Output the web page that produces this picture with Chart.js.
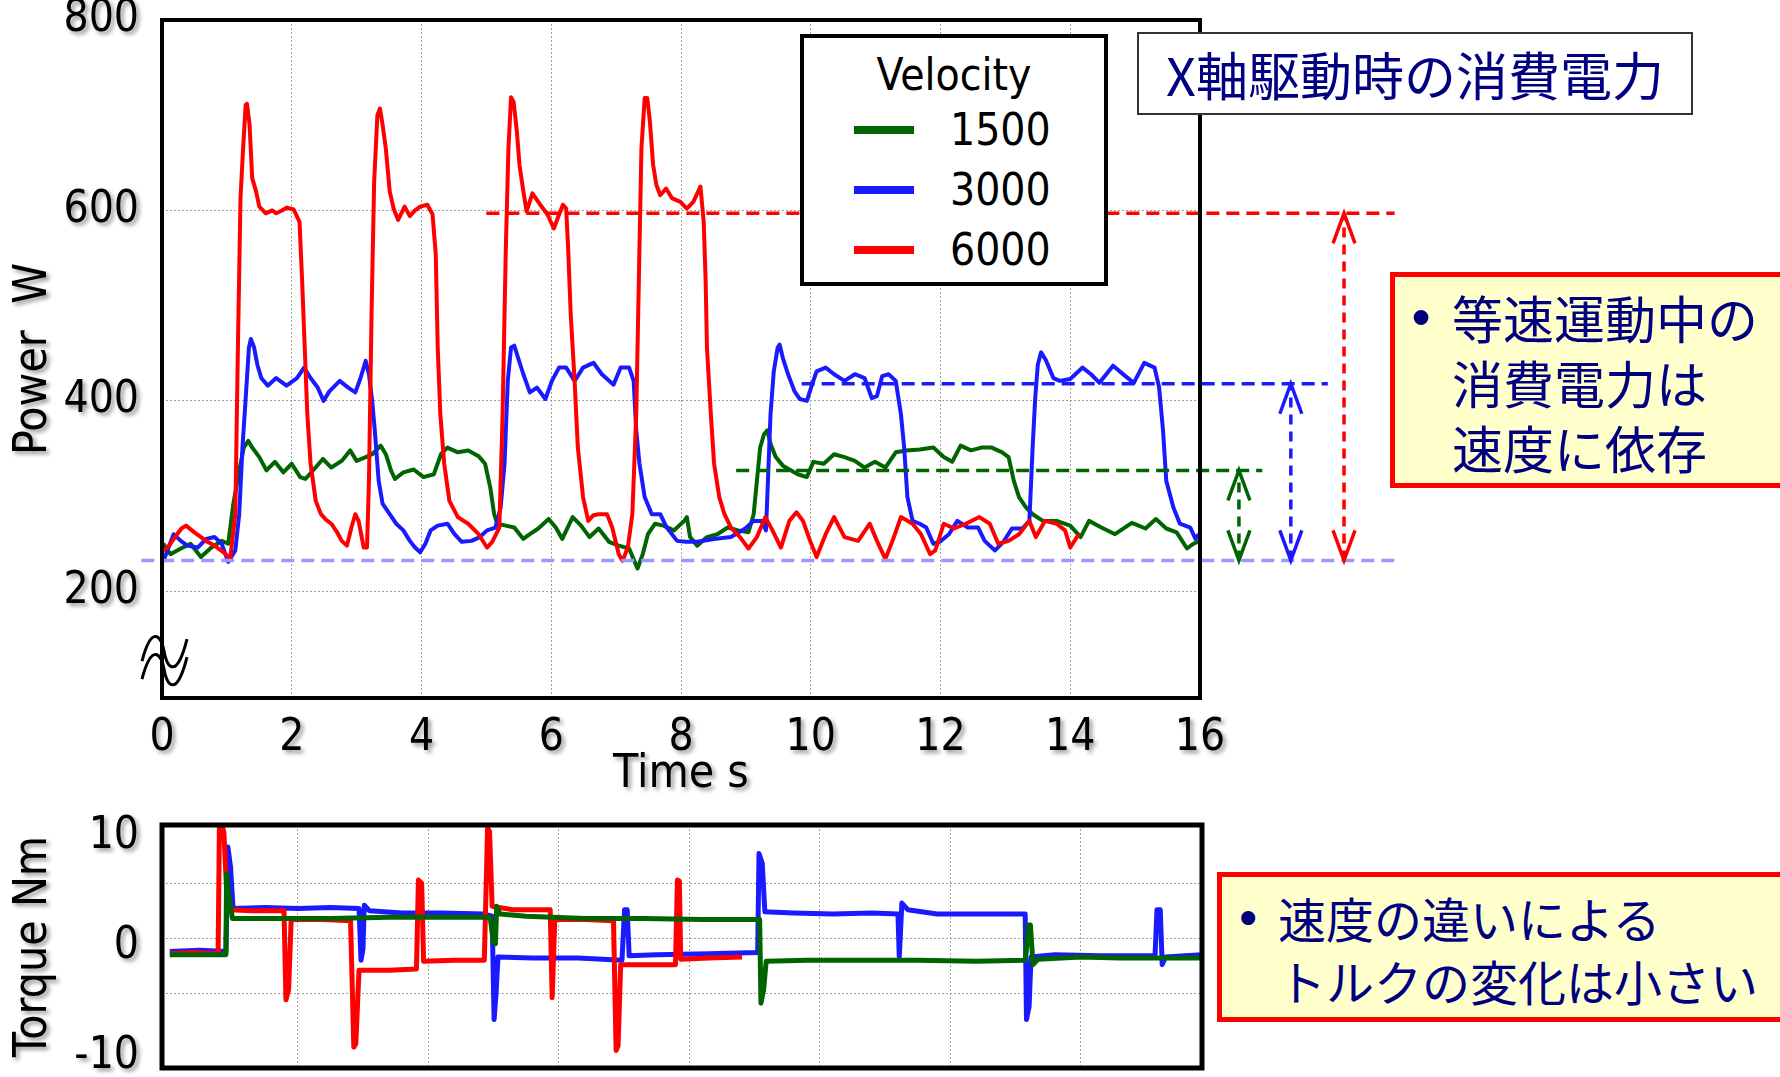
<!DOCTYPE html>
<html>
<head>
<meta charset="utf-8">
<script src="https://cdn.jsdelivr.net/npm/chart.js@4.4.1/dist/chart.umd.min.js"></script>
<style>
  body { margin: 0; background: #fff; width: 1780px; height: 1077px; overflow: hidden; position: relative; }
  canvas { position: absolute; left: 0; }
  #powerChart { top: 0; }
  #torqueChart { top: 790px; }
  .box { position: absolute; box-sizing: border-box; }
  #legendBox { left: 800px; top: 34px; width: 308px; height: 252px; border: 4px solid #000; background: #fff;
               font-family: 'DejaVu Sans Condensed', 'DejaVu Sans', sans-serif; font-size: 44px; color: #000; }
  #legendTitle { position: absolute; left: 0; right: 0; top: 7px; line-height: 60px; text-align: center; }
  .legRow { position: absolute; left: 0; right: 0; height: 60px; }
  .legSwatch { position: absolute; left: 50px; top: 26px; width: 60px; height: 8px; }
  .legText { position: absolute; left: 146px; top: 0; line-height: 60px; }
  #titleBox { left: 1137px; top: 32px; width: 556px; height: 83px; border: 2px solid #333; background: #fff;
              color: #000080; font-family: 'Noto Sans CJK JP', sans-serif; font-size: 52px; line-height: 79px; text-align: center; }
  .note { border: 5px solid #ff0000; background: #ffffcc; color: #000080; font-family: 'Noto Sans CJK JP', sans-serif; }
  #note1 { left: 1390px; top: 272px; width: 430px; height: 216px; font-size: 51px; line-height: 65px; padding: 7.5px 0 0 57px; }
  #note2 { left: 1217px; top: 872px; width: 600px; height: 150px; font-size: 48px; line-height: 63px; padding: 9px 0 0 56px; }
  .bullet { position: absolute; font-family: 'DejaVu Sans', sans-serif; }
  #note1 .bullet { left: 11px; top: 10px; font-size: 51px; line-height: 65px; }
  #note2 .bullet { left: 12px; top: 11px; font-size: 48px; line-height: 63px; }
</style>
</head>
<body>
<canvas id="powerChart" width="1780" height="803"></canvas>
<canvas id="torqueChart" width="1780" height="287"></canvas>

<div class="box" id="legendBox"><div id="legendTitle">Velocity</div></div>
<div class="box" id="titleBox">X軸駆動時の消費電力</div>
<div class="box note" id="note1"><span class="bullet">•</span><div>等速運動中の</div><div>消費電力は</div><div>速度に依存</div></div>
<div class="box note" id="note2"><span class="bullet">•</span><div>速度の違いによる</div><div>トルクの変化は小さい</div></div>

<script>
// values: [time s, value]
const velocityLabels = ["1500", "3000", "6000"];
const seriesColors = ["#006400", "#1a1aff", "#ff0000"];

const powerXTicks = [0, 2, 4, 6, 8, 10, 12, 14, 16];
const powerYTicks = [200, 400, 600, 800];
const powerGridX = [2, 4, 6, 8, 10, 12, 14];
const powerGridY = [200, 400, 600];
const torqueGridX = [2, 4, 6, 8, 10, 12, 14];
const torqueYTicks = [-10, -5, 0, 5, 10];
const torqueGridY = [-5, 0, 5];

const power1500 = [[0.02,250],[0.13,239],[0.29,245],[0.44,250],[0.60,236],[0.76,246],[0.92,253],[1.02,250],[1.10,292],[1.18,323],[1.26,351],[1.33,358],[1.39,351],[1.50,341],[1.61,327],[1.74,336],[1.87,325],[2.0,334],[2.13,320],[2.21,318],[2.34,328],[2.48,339],[2.61,330],[2.77,337],[2.90,348],[3.0,337],[3.14,341],[3.24,344],[3.37,353],[3.45,344],[3.53,327],[3.59,318],[3.72,325],[3.88,328],[4.03,320],[4.19,323],[4.30,344],[4.40,351],[4.56,346],[4.72,348],[4.88,342],[4.98,334],[5.06,309],[5.12,281],[5.17,271],[5.30,269],[5.43,267],[5.57,255],[5.67,260],[5.80,266],[5.96,276],[6.07,267],[6.17,255],[6.33,278],[6.46,269],[6.59,257],[6.73,266],[6.89,252],[7.04,248],[7.20,245],[7.28,232],[7.33,224],[7.41,239],[7.49,260],[7.60,271],[7.73,269],[7.89,264],[8.05,274],[8.09,278],[8.14,257],[8.25,248],[8.40,257],[8.56,260],[8.72,267],[8.88,264],[9.04,262],[9.12,281],[9.17,316],[9.22,351],[9.28,365],[9.33,369],[9.38,355],[9.46,341],[9.57,332],[9.67,328],[9.80,323],[9.94,320],[10.04,336],[10.20,334],[10.36,344],[10.52,341],[10.68,337],[10.83,330],[10.99,336],[11.15,330],[11.31,346],[11.47,348],[11.68,349],[11.89,351],[12.05,341],[12.18,336],[12.31,353],[12.47,348],[12.63,351],[12.79,351],[12.95,346],[13.05,341],[13.13,316],[13.21,299],[13.32,288],[13.42,281],[13.58,274],[13.79,274],[14.0,269],[14.16,257],[14.29,274],[14.48,267],[14.69,260],[14.95,272],[15.16,266],[15.32,276],[15.48,266],[15.64,262],[15.80,245],[15.90,250],[16.0,253]];

const power3000 = [[0.02,231],[0.10,246],[0.18,260],[0.29,253],[0.39,248],[0.55,246],[0.68,255],[0.81,257],[0.92,250],[1.02,231],[1.13,243],[1.19,281],[1.24,351],[1.29,403],[1.34,456],[1.37,465],[1.42,456],[1.47,438],[1.53,424],[1.63,416],[1.76,424],[1.92,416],[2.08,424],[2.19,435],[2.29,424],[2.40,414],[2.49,400],[2.58,410],[2.74,421],[2.87,414],[2.98,409],[3.06,424],[3.14,442],[3.19,428],[3.24,400],[3.28,369],[3.34,316],[3.40,292],[3.51,281],[3.61,271],[3.72,264],[3.82,253],[3.90,246],[3.98,241],[4.06,250],[4.14,264],[4.25,269],[4.40,271],[4.51,260],[4.62,252],[4.77,253],[4.90,257],[5.01,264],[5.14,267],[5.22,288],[5.28,334],[5.33,421],[5.38,456],[5.43,458],[5.49,445],[5.57,428],[5.67,409],[5.78,414],[5.91,402],[6.01,421],[6.12,435],[6.23,435],[6.36,421],[6.49,435],[6.65,440],[6.78,428],[6.96,417],[7.07,435],[7.20,435],[7.27,421],[7.31,369],[7.36,334],[7.44,299],[7.55,281],[7.68,281],[7.78,267],[7.94,253],[8.07,252],[8.25,252],[8.51,255],[8.77,257],[8.99,266],[9.12,274],[9.25,274],[9.31,264],[9.34,316],[9.38,386],[9.43,431],[9.49,456],[9.52,459],[9.57,445],[9.65,428],[9.75,410],[9.83,402],[9.94,400],[10.02,417],[10.09,431],[10.23,435],[10.36,428],[10.52,421],[10.68,428],[10.83,424],[10.94,403],[11.02,405],[11.10,426],[11.20,428],[11.31,421],[11.39,386],[11.44,351],[11.49,299],[11.57,274],[11.68,271],[11.78,267],[11.89,250],[11.99,252],[12.13,260],[12.26,274],[12.42,267],[12.58,267],[12.68,253],[12.84,243],[12.97,252],[13.10,266],[13.26,266],[13.37,274],[13.42,351],[13.46,403],[13.50,438],[13.55,451],[13.63,442],[13.74,424],[13.84,421],[14.0,423],[14.19,435],[14.32,428],[14.45,419],[14.66,437],[14.85,426],[14.98,419],[15.14,440],[15.30,435],[15.37,414],[15.43,369],[15.48,316],[15.59,288],[15.69,271],[15.85,267],[15.93,255],[15.98,260]];

const power6000 = [[0.02,243],[0.1,247],[0.2,257],[0.3,266],[0.37,269],[0.5,262],[0.6,257],[0.7,252],[0.76,250],[0.85,246],[0.95,241],[1.05,234],[1.13,281],[1.17,456],[1.21,613],[1.25,665],[1.29,711],[1.31,712],[1.35,690],[1.39,634],[1.45,620],[1.5,604],[1.6,597],[1.7,600],[1.76,597],[1.85,600],[1.92,603],[2.03,601],[2.12,588],[2.16,526],[2.2,456],[2.24,386],[2.29,334],[2.37,295],[2.45,281],[2.53,275],[2.61,271],[2.7,262],[2.77,253],[2.85,248],[2.92,267],[2.98,281],[3.03,274],[3.11,246],[3.16,246],[3.19,316],[3.23,491],[3.27,630],[3.32,700],[3.36,707],[3.40,690],[3.45,665],[3.51,620],[3.57,602],[3.64,590],[3.74,604],[3.82,594],[3.9,600],[3.98,604],[4.09,606],[4.17,596],[4.22,554],[4.25,456],[4.29,386],[4.35,334],[4.43,295],[4.56,278],[4.72,271],[4.88,260],[5.01,246],[5.09,252],[5.2,267],[5.25,386],[5.30,561],[5.34,665],[5.38,719],[5.42,714],[5.47,683],[5.51,648],[5.57,620],[5.62,599],[5.71,618],[5.83,606],[5.94,596],[6.04,581],[6.10,592],[6.18,606],[6.23,602],[6.26,561],[6.30,491],[6.36,421],[6.41,351],[6.49,299],[6.57,274],[6.65,280],[6.73,281],[6.86,281],[6.94,267],[7.04,239],[7.10,232],[7.18,246],[7.25,281],[7.31,386],[7.35,526],[7.39,665],[7.44,718],[7.48,718],[7.52,694],[7.57,648],[7.62,627],[7.68,616],[7.77,623],[7.86,613],[7.99,609],[8.09,602],[8.19,609],[8.30,625],[8.35,588],[8.38,526],[8.40,456],[8.46,386],[8.51,334],[8.59,299],[8.67,281],[8.77,267],[8.91,257],[9.04,245],[9.17,257],[9.30,278],[9.41,264],[9.54,246],[9.67,274],[9.78,283],[9.88,274],[9.99,253],[10.09,236],[10.23,260],[10.36,278],[10.52,257],[10.73,253],[10.91,271],[11.02,253],[11.15,234],[11.26,253],[11.39,278],[11.57,271],[11.70,260],[11.84,239],[11.92,243],[12.05,271],[12.21,266],[12.39,271],[12.60,278],[12.76,271],[12.89,250],[13.05,253],[13.21,260],[13.37,274],[13.47,257],[13.61,274],[13.79,271],[13.92,264],[14.0,246],[14.13,260]];

// dashed reference levels (1500, 3000, 6000) and the base level
const refLevels = [327, 418, 597];
const refStart = [8.85, 9.86, 5.0];
const refEnd = [16.96, 17.97, 19.0];
const arrowTimes = [16.6, 17.4, 18.22];
const baseLevel = 232.5;
const baseSpan = [-0.32, 19.0];

const torque1500 = [[0.04,-1.5],[0.5,-1.5],[0.90,-1.5],[0.91,5.9],[0.96,3.2],[1.0,1.8],[1.6,1.8],[2.5,1.8],[3.4,1.9],[4.3,1.9],[4.95,1.9],[5.0,-0.4],[5.03,-0.5],[5.05,2.9],[5.1,2.2],[5.5,2.0],[6.4,1.8],[7.3,1.8],[8.2,1.7],[9.08,1.7],[9.10,-5.9],[9.14,-4.7],[9.18,-2.1],[9.8,-2.0],[10.6,-2.0],[11.5,-2.0],[12.4,-2.1],[13.15,-2.0],[13.17,-0.9],[13.20,1.2],[13.23,1.2],[13.27,-2.4],[13.35,-1.9],[14.0,-1.7],[14.6,-1.8],[15.2,-1.8],[15.86,-1.8]];

const torque3000 = [[0.04,-1.2],[0.5,-1.1],[0.90,-1.2],[0.93,8.3],[0.97,6.5],[1.01,2.7],[1.5,2.8],[2.0,2.7],[2.5,2.8],[2.94,2.7],[2.97,-2.0],[3.0,-1.0],[3.02,3.0],[3.1,2.5],[3.6,2.3],[4.2,2.3],[4.86,2.2],[4.98,2.0],[5.01,-7.4],[5.04,-5.0],[5.07,-1.7],[5.6,-1.8],[6.3,-1.8],[6.97,-2.0],[7.01,2.6],[7.05,2.6],[7.08,-1.6],[7.5,-1.5],[8.3,-1.4],[9.05,-1.3],[9.07,7.7],[9.12,6.8],[9.16,2.4],[9.6,2.3],[10.2,2.2],[10.8,2.3],[11.2,2.2],[11.22,-1.7],[11.26,3.2],[11.35,2.6],[11.8,2.2],[12.5,2.2],[13.15,2.2],[13.17,-7.4],[13.21,-6.2],[13.24,-1.7],[13.6,-1.5],[14.3,-1.6],[15.14,-1.6],[15.17,2.6],[15.22,2.6],[15.25,-2.4],[15.3,-1.7],[15.6,-1.6],[15.86,-1.5]];

const torque6000 = [[0.04,-1.4],[0.4,-1.3],[0.78,-1.4],[0.80,10.3],[0.84,10.4],[0.87,9.5],[0.91,4.4],[0.95,2.6],[1.3,2.5],[1.79,2.5],[1.82,-5.6],[1.86,-4.7],[1.90,1.7],[2.4,1.7],[2.81,1.6],[2.86,-9.9],[2.89,-9.6],[2.94,-2.9],[3.4,-2.9],[3.82,-2.8],[3.85,5.3],[3.90,5.0],[3.93,-2.1],[4.4,-2.0],[4.86,-2.0],[4.91,10.0],[4.94,9.7],[4.98,2.9],[5.3,2.6],[5.87,2.6],[5.90,-5.4],[5.94,1.7],[6.4,1.7],[6.84,1.6],[6.88,-10.2],[6.91,-9.8],[6.95,-2.4],[7.4,-2.4],[7.79,-2.4],[7.82,5.3],[7.85,5.2],[7.87,-1.9],[8.3,-1.8],[8.81,-1.7]];

const axisFont = "'DejaVu Sans Condensed', 'DejaVu Sans', sans-serif";
const toXY = arr => arr.map(p => ({ x: p[0], y: p[1] }));

// legend (html box drawn over the plot)
const legendBox = document.getElementById("legendBox");
velocityLabels.forEach(function (lab, i) {
    const row = document.createElement("div");
    row.className = "legRow";
    row.style.top = (62 + 60 * i) + "px";
    row.innerHTML = '<div class="legSwatch" style="background:' + seriesColors[i] + '"></div><div class="legText">' + lab + "</div>";
    legendBox.appendChild(row);
});

function drawHead(ctx, tip, from, color) {
    let dx = from.x - tip.x, dy = from.y - tip.y;
    const len = Math.hypot(dx, dy) || 1;
    dx /= len; dy /= len;
    const bx = tip.x + dx * 30, by = tip.y + dy * 30;
    ctx.setLineDash([]);
    ctx.strokeStyle = color;
    ctx.lineWidth = 3.5;
    ctx.beginPath();
    ctx.moveTo(bx - dy * 11, by + dx * 11);
    ctx.lineTo(tip.x, tip.y);
    ctx.lineTo(bx + dy * 11, by - dx * 11);
    ctx.stroke();
}

// frame, arrow heads, axis break; then a soft shadow for labels drawn after datasets
const decorPlugin = {
    id: "decor",
    afterDatasetsDraw(chart, args, opts) {
        const ctx = chart.ctx;
        const a = chart.chartArea;
        ctx.save();
        chart.data.datasets.forEach(function (ds, i) {
            if (!ds.arrowHeads) return;
            const pts = chart.getDatasetMeta(i).data;
            drawHead(ctx, pts[0], pts[1], ds.borderColor);
            drawHead(ctx, pts[1], pts[0], ds.borderColor);
        });
        ctx.setLineDash([]);
        ctx.strokeStyle = "#000";
        ctx.lineWidth = opts.frameWidth;
        ctx.strokeRect(a.left, a.top, a.right - a.left, a.bottom - a.top);
        if (opts.breakValue != null) {
            const cx = a.left + 2;
            const cy = chart.scales.y.getPixelForValue(opts.breakValue);
            ctx.lineWidth = 3;
            [0, 18].forEach(function (off) {
                ctx.beginPath();
                ctx.moveTo(cx - 22, cy + 4 + off);
                ctx.bezierCurveTo(cx - 12, cy - 34 + off, cx - 2, cy - 20 + off, cx, cy - 6 + off);
                ctx.bezierCurveTo(cx + 2, cy + 8 + off, cx + 12, cy + 26 + off, cx + 23, cy - 18 + off);
                ctx.stroke();
            });
        }
        ctx.restore();
        ctx.save();
        ctx.shadowColor = "rgba(0,0,0,0.4)";
        ctx.shadowBlur = 4;
        ctx.shadowOffsetX = 3;
        ctx.shadowOffsetY = 3;
    },
    afterDraw(chart) {
        chart.ctx.restore();
    },
};

function setTicks(list) {
    return function (scale) {
        scale.ticks = list.map(v => ({ value: v }));
    };
}

// fix the axis box size and drop the label overhang padding so the plot area stays put
function fixSize(size) {
    return function (s) {
        if (s.isHorizontal()) s.height = size; else s.width = size;
        s.paddingLeft = 0; s.paddingRight = 0; s.paddingTop = 0; s.paddingBottom = 0;
    };
}

function gridAxis(pos, min, max, list) {
    return {
        type: "linear", position: pos, min: min, max: max,
        afterBuildTicks: setTicks(list),
        afterFit: fixSize(0),
        ticks: { display: false },
        grid: { color: "#a0a0a0", lineWidth: 1, drawTicks: false },
        border: { display: false, dash: [2, 2] },
    };
}

// ---------- power chart ----------
const powerSets = [];
[0, 1, 2].forEach(function (i) {
    powerSets.push({
        data: [{ x: refStart[i], y: refLevels[i] }, { x: refEnd[i], y: refLevels[i] }],
        borderColor: seriesColors[i], borderWidth: 3.5, borderDash: [13, 7],
        pointRadius: 0, clip: false, order: 0, xAxisID: "x", yAxisID: "y",
    });
    powerSets.push({
        data: [{ x: arrowTimes[i], y: baseLevel }, { x: arrowTimes[i], y: refLevels[i] }],
        borderColor: seriesColors[i], borderWidth: 3.5, borderDash: [10, 7],
        pointRadius: 0, clip: false, order: 0, arrowHeads: true, xAxisID: "x", yAxisID: "y",
    });
});
powerSets.push({
    data: [{ x: baseSpan[0], y: baseLevel }, { x: baseSpan[1], y: baseLevel }],
    borderColor: "#9999ff", borderWidth: 3.5, borderDash: [13, 7],
    pointRadius: 0, clip: false, order: 0, xAxisID: "x", yAxisID: "y",
});
[power1500, power3000, power6000].forEach(function (arr, i) {
    powerSets.push({
        label: velocityLabels[i], data: toXY(arr), borderColor: seriesColors[i],
        borderWidth: 4, pointRadius: 0, borderJoinStyle: "round", order: 3 - i, xAxisID: "x", yAxisID: "y",
    });
});

new Chart(document.getElementById("powerChart"), {
    type: "line",
    data: { datasets: powerSets },
    plugins: [decorPlugin],
    options: {
        responsive: false,
        animation: false,
        events: [],
        layout: { padding: { left: 0, right: 580, top: 20, bottom: 0 } },
        plugins: { legend: { display: false }, tooltip: { enabled: false }, decor: { frameWidth: 4, breakValue: 131 } },
        scales: {
            x: {
                type: "linear", position: "bottom", min: 0, max: 16,
                afterBuildTicks: setTicks(powerXTicks),
                afterFit: fixSize(105),
                grid: { display: false, z: 1 },
                border: { display: false },
                ticks: { z: 1, color: "#000", font: { family: axisFont, size: 44 }, padding: 6, maxRotation: 0, autoSkip: false },
                title: { display: true, text: "Time s", color: "#000", font: { family: axisFont, size: 46 }, padding: { top: 0, bottom: 0 } },
            },
            y: {
                type: "linear", position: "left", min: 88, max: 800,
                afterBuildTicks: setTicks(powerYTicks),
                afterFit: fixSize(162),
                grid: { display: false, z: 1 },
                border: { display: false },
                ticks: { z: 1, color: "#000", font: { family: axisFont, size: 44 }, padding: 15, autoSkip: false },
                title: { display: true, text: "Power  W", color: "#000", font: { family: axisFont, size: 46 }, padding: { top: 6, bottom: 0 } },
            },
            gx: gridAxis("bottom", 0, 16, powerGridX),
            gy: gridAxis("left", 88, 800, powerGridY),
        },
    },
});

// ---------- torque chart ----------
const torqueSets = [torque1500, torque3000, torque6000].map(function (arr, i) {
    return {
        label: velocityLabels[i], data: toXY(arr), borderColor: seriesColors[i],
        borderWidth: 5, pointRadius: 0, borderJoinStyle: "round", order: [1, 3, 2][i], xAxisID: "x", yAxisID: "y",
    };
});

new Chart(document.getElementById("torqueChart"), {
    type: "line",
    data: { datasets: torqueSets },
    plugins: [decorPlugin],
    options: {
        responsive: false,
        animation: false,
        events: [],
        layout: { padding: { left: 0, right: 578, top: 35, bottom: 0 } },
        plugins: { legend: { display: false }, tooltip: { enabled: false }, decor: { frameWidth: 5 } },
        scales: {
            x: {
                type: "linear", position: "bottom", min: -0.08, max: 15.86,
                afterBuildTicks: setTicks(torqueGridX),
                afterFit: fixSize(9),
                grid: { display: false, z: 1 },
                border: { display: false },
                ticks: { display: false },
            },
            y: {
                type: "linear", position: "left", min: -11.8, max: 10.3,
                afterBuildTicks: setTicks(torqueYTicks),
                afterFit: fixSize(162),
                grid: { display: false, z: 1 },
                border: { display: false },
                ticks: {
                    z: 1, color: "#000", font: { family: axisFont, size: 44 }, padding: 15, labelOffset: 8, autoSkip: false,
                    callback: v => (v % 10 === 0 ? String(v) : ""),
                },
                title: { display: true, text: "Torque Nm", color: "#000", font: { family: axisFont, size: 46 }, padding: { top: 6, bottom: 0 } },
            },
            gx: gridAxis("bottom", -0.08, 15.86, torqueGridX),
            gy: gridAxis("left", -11.8, 10.3, torqueGridY),
        },
    },
});
</script>
</body>
</html>
